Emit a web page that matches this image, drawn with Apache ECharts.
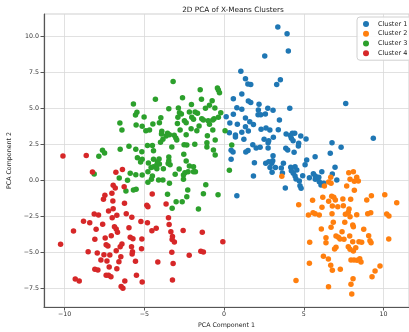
<!DOCTYPE html>
<html>
<head>
<meta charset="utf-8">
<title>2D PCA of X-Means Clusters</title>
<script src="https://cdn.jsdelivr.net/npm/echarts@6.0.0/dist/echarts.min.js"></script>
<style>
  html, body { margin: 0; padding: 0; background: #fff; }
  #chart { width: 409px; height: 332px; }
</style>
</head>
<body>
<div id="chart"></div>
<script>
// PCA component 1 / component 2 per cluster
const cluster1 = [
  [3.37,10.64],[3.95,10.17],[4.03,8.97],[2.55,8.62],[1.05,7.56],[1.34,7.04],[3.53,6.97],[1.49,6.68],[1.67,6.63],[3.30,6.63],
  [1.11,5.98],[0.58,5.65],[1.52,5.49],[1.67,5.38],[2.19,5.26],[4.12,4.99],[0.80,5.03],[1.11,4.92],[2.15,4.87],[2.74,4.99],
  [3.07,4.85],[2.13,4.54],[2.30,4.54],[2.59,4.59],[0.58,4.57],[0.13,4.40],[1.34,4.31],[3.47,4.17],[1.61,4.05],[0.36,3.96],
  [0.83,3.87],[1.84,3.85],[1.34,3.71],[2.32,3.53],[2.63,3.62],[2.87,3.48],[3.40,3.50],[1.52,3.41],[1.11,3.32],[0.33,3.29],
  [3.89,3.20],[4.28,3.25],[4.43,3.25],[0.71,3.13],[0.71,2.99],[4.81,3.06],[3.09,2.97],[1.24,2.83],[2.51,2.83],[2.80,2.73],
  [4.22,2.90],[4.33,2.73],[5.14,2.85],[1.80,2.45],[2.01,2.23],[2.26,2.27],[2.76,2.59],[2.76,2.23],[4.68,2.55],[4.66,2.36],
  [6.77,2.59],[7.34,2.27],[3.87,2.20],[3.99,2.09],[0.44,2.07],[1.36,1.95],[3.07,1.69],[5.71,1.62],[0.44,1.44],[5.18,1.39],
  [7.63,5.31],[9.36,2.90],[6.66,1.86],[4.39,1.93],[3.05,1.34],[2.99,1.16],[3.72,1.16],[5.08,1.06],[3.22,0.86],[2.88,0.86],
  [3.59,0.83],[4.18,0.88],[4.45,0.92],[4.56,0.70],[6.96,0.88],[3.01,0.54],[3.66,0.49],[4.22,0.65],[4.34,0.47],[4.45,0.28],
  [4.51,0.07],[4.93,0.30],[5.35,0.16],[5.60,0.44],[5.72,0.28],[5.72,0.05],[5.94,0.19],[6.13,0.58],[5.97,-0.12],[6.08,-0.35],
  [6.25,-0.23],[4.72,-0.07],[4.76,-0.40],[4.83,-0.58],[7.07,0.00],[3.84,-0.56],[6.79,0.42],[0.56,1.95],[1.50,2.05],[1.90,1.20],
  [2.61,1.16],[2.80,1.27],[1.84,0.28],[0.80,-1.09],[4.15,3.10]
];
const cluster2 = [
  [3.62,0.26],[7.82,0.51],[8.11,0.58],[8.32,0.19],[8.42,-0.07],[8.17,-0.09],[7.90,0.05],[6.69,0.19],[6.56,-0.14],[6.71,-0.23],
  [6.29,-0.42],[7.69,-0.42],[8.17,-0.72],[10.08,-1.02],[8.95,-1.39],[6.19,-1.20],[6.75,-1.13],[6.88,-1.20],[7.45,-1.32],[7.94,-1.34],
  [5.55,-1.41],[4.68,-1.72],[6.98,-1.39],[6.56,-1.48],[9.24,-1.09],[10.83,-1.58],[6.14,-1.90],[6.79,-1.81],[7.13,-1.86],[7.48,-1.79],
  [7.84,-2.02],[7.79,-2.25],[5.29,-2.43],[5.58,-2.27],[5.71,-2.34],[5.97,-2.43],[6.77,-2.34],[7.61,-2.39],[7.90,-2.55],[8.32,-2.41],
  [9.01,-2.34],[9.20,-2.27],[10.20,-2.36],[10.34,-2.50],[6.85,-2.94],[7.57,-2.94],[8.07,-3.13],[8.11,-3.25],[6.10,-3.41],[6.71,-3.29],
  [8.76,-3.43],[7.40,-3.60],[7.88,-3.89],[7.02,-3.89],[7.17,-3.98],[6.39,-4.01],[9.07,-3.87],[9.15,-4.22],[7.27,-4.10],[7.52,-4.12],
  [8.46,-4.29],[8.07,-4.29],[5.37,-4.33],[10.33,-4.10],[8.63,-4.33],[9.22,-4.36],[7.02,-4.68],[7.79,-4.64],[7.90,-4.82],[8.26,-4.71],
  [6.93,-4.80],[6.39,-4.36],[8.11,-4.94],[6.23,-5.31],[6.54,-5.49],[7.96,-5.56],[8.15,-5.56],[8.51,-5.47],[8.59,-5.70],[8.34,-5.58],
  [5.35,-5.79],[6.69,-5.93],[7.29,-6.21],[6.79,-6.28],[9.78,-5.98],[9.47,-6.33],[9.28,-6.72],[8.09,-6.86],[4.51,-6.99],[6.55,-7.42],
  [7.96,-7.25],[8.01,-7.93]
];
const cluster3 = [
  [-1.50,6.28],[-0.42,6.40],[-0.36,6.26],[-0.29,6.07],[-1.42,5.61],[-0.75,5.51],[-0.92,5.19],[-1.17,4.99],[-0.58,5.01],[-0.21,4.68],
  [-0.36,4.36],[-0.63,4.26],[-0.71,4.17],[-1.00,4.12],[-1.30,4.17],[-1.40,4.26],[-0.92,3.87],[0.06,3.43],[-0.71,3.48],[-1.05,3.08],
  [-0.56,2.78],[-1.08,2.59],[-1.08,2.29],[0.48,2.43],[-0.67,2.09],[-0.56,1.74],[-3.20,6.84],[-2.61,5.72],[-4.31,5.61],[-5.69,5.29],
  [-2.05,5.24],[-3.47,4.96],[-2.87,5.01],[-5.47,4.71],[-5.56,4.52],[-2.80,4.68],[-2.68,4.59],[-2.18,4.73],[-1.82,4.73],[-1.67,4.64],
  [-5.02,4.38],[-3.97,4.33],[-2.90,4.36],[-2.03,4.36],[-1.92,4.22],[-2.49,4.12],[-2.38,3.98],[-4.06,3.98],[-4.47,3.89],[-2.93,3.92],
  [-6.54,3.96],[-5.52,3.82],[-5.14,3.73],[-1.57,3.76],[-2.07,3.57],[-6.41,3.48],[-4.91,3.43],[-4.68,3.48],[-2.76,3.48],[-3.91,3.39],
  [-3.93,3.20],[-3.55,3.25],[-3.64,3.06],[-3.43,3.15],[-3.13,3.11],[-3.03,2.92],[-2.97,2.78],[-1.71,3.43],[-2.38,3.15],[-3.84,2.83],
  [-3.99,2.62],[-2.51,2.45],[-2.34,2.43],[-1.84,2.48],[-5.97,2.34],[-5.54,2.13],[-5.16,1.97],[-4.81,2.39],[-4.50,2.39],[-4.43,2.04],
  [-3.28,2.29],[-6.52,2.13],[-7.63,2.07],[-7.50,1.88],[-7.86,1.65],[-5.44,1.55],[-5.14,1.44],[-4.08,1.46],[-4.18,1.27],[-3.47,1.60],
  [-3.47,1.34],[-3.39,1.06],[-4.75,1.18],[-4.43,0.92],[-4.22,0.79],[-2.38,1.32],[-2.18,0.97],[-1.92,0.92],[-2.82,0.76],[-3.81,0.79],
  [-5.24,1.25],[-8.15,0.42],[-5.89,0.47],[-5.54,0.37],[-5.14,0.35],[-4.78,0.58],[-4.50,0.28],[-4.56,0.05],[-6.58,0.14],[-6.06,-0.02],
  [-6.16,-0.76],[-5.69,-0.70],[-5.52,-0.65],[-4.78,-0.16],[-4.11,0.00],[-3.84,0.00],[-3.43,-0.23],[-3.51,1.15],[-4.06,1.11],[-4.43,1.44],
  [-4.58,0.87],[-4.22,1.06],[-2.53,1.79],[-1.92,0.58],[-1.80,0.58],[-3.07,0.40],[-2.55,0.35],[-2.46,0.51],[-2.26,0.58],[-2.55,0.05],
  [-1.15,-0.33],[-2.28,-0.70],[-3.55,-0.99],[-1.30,-0.95],[-0.38,-1.02],[-2.34,-1.16],[-3.01,-1.51],[-2.63,-1.51],[-3.26,-1.97],[-1.61,-2.02],
  [0.33,0.67]
];
const cluster4 = [
  [-10.11,1.67],[-8.65,1.70],[-8.26,0.56],[-6.79,0.54],[-6.38,0.73],[-6.96,-0.37],[-7.04,-0.92],[-6.83,-0.56],[-6.27,-0.47],[-7.48,-1.06],
  [-7.57,-1.34],[-6.98,-1.46],[-6.25,-1.62],[-4.51,-0.97],[-4.85,-1.76],[-4.78,-1.86],[-7.25,-2.16],[-6.96,-2.00],[-8.15,-2.36],[-7.88,-2.43],
  [-6.14,-2.34],[-5.79,-2.59],[-7.02,-2.62],[-6.73,-2.45],[-8.82,-2.87],[-8.43,-2.98],[-7.62,-3.08],[-5.22,-2.89],[-4.81,-2.97],[-3.64,-1.67],
  [-3.49,-2.62],[-3.45,-3.09],[-3.34,-3.60],[-3.24,-3.93],[-3.26,-4.14],[-4.26,-3.36],[-4.53,-3.53],[-2.57,-3.51],[-1.37,-3.64],[-10.26,-4.47],
  [-9.45,-3.55],[-8.03,-3.43],[-6.88,-3.25],[-6.77,-3.41],[-6.69,-3.64],[-5.97,-3.32],[-7.08,-3.87],[-7.46,-4.03],[-8.11,-4.12],[-5.89,-3.98],
  [-5.72,-4.08],[-5.16,-4.10],[-3.12,-4.31],[-7.40,-4.50],[-7.29,-4.59],[-6.41,-4.45],[-6.52,-4.64],[-5.81,-4.64],[-5.18,-4.78],[-8.53,-4.99],
  [-7.96,-5.08],[-7.54,-5.19],[-7.17,-5.22],[-6.77,-4.92],[-5.75,-4.99],[-5.77,-5.15],[-6.48,-5.33],[-7.73,-5.56],[-7.35,-5.63],[-6.60,-5.68],
  [-5.56,-5.65],[-4.16,-5.70],[-3.28,-5.03],[-3.20,-5.81],[-7.21,-6.05],[-6.73,-6.17],[-8.11,-6.21],[-7.92,-6.26],[-7.40,-6.63],[-7.25,-6.63],
  [-7.10,-6.72],[-5.50,-6.63],[-9.34,-6.88],[-9.09,-7.02],[-6.23,-7.02],[-5.14,-7.09],[-3.24,-6.95],[-6.46,-7.41],[-6.35,-7.53],[-2.19,-5.24],
  [-1.46,-4.96],[-1.30,-5.01],[-0.08,-4.29]
];
const clusterNames = ['Cluster 1', 'Cluster 2', 'Cluster 3', 'Cluster 4'];
const clusterColors = ['#1f77b4', '#ff7f0e', '#2ca02c', '#d62728'];
const xTicks = [-10, -5, 0, 5, 10];
const yTicks = [-7.5, -5, -2.5, 0, 2.5, 5, 7.5, 10];

const chart = echarts.init(document.getElementById('chart'));
const font = 'DejaVu Sans';
const minus = v => String(v).replace('-', '\u2212');

const option = {
  animation: false,
  textStyle: { fontFamily: font },
  title: {
    text: '2D PCA of X-Means Clusters',
    left: 228,
    textAlign: 'center',
    top: 2,
    textStyle: { fontSize: 7.3, fontWeight: 'normal', color: '#222', fontFamily: font }
  },
  legend: {
    orient: 'vertical',
    left: 357,
    top: 17,
    padding: [2, 4, 2, 6],
    itemGap: 0,
    itemWidth: 6,
    itemHeight: 6,
    icon: 'circle',
    backgroundColor: 'rgba(255,255,255,0.85)',
    borderColor: '#d0d0d0',
    borderWidth: 1,
    borderRadius: 3,
    textStyle: { fontSize: 6.5, color: '#222', lineHeight: 9.8, padding: [0, 0, 0, 4], fontFamily: font },
    data: clusterNames
  },
  grid: {
    left: 44, right: 0, top: 14, bottom: 25,
    containLabel: false,
    outerBoundsMode: 'none',
    show: true, borderColor: '#cfcfcf', borderWidth: 1
  },
  xAxis: {
    type: 'value',
    min: -11.3, max: 11.6,
    name: 'PCA Component 1',
    nameLocation: 'middle',
    nameGap: 13,
    nameTextStyle: { fontSize: 6.3, color: '#222', fontFamily: font },
    axisLine: { show: true, onZero: false, lineStyle: { color: '#555', width: 1.2 } },
    axisTick: { show: true, length: 3.5, customValues: xTicks, lineStyle: { color: '#555' } },
    axisLabel: { fontSize: 6.3, color: '#333', margin: 4, customValues: xTicks, formatter: minus },
    splitLine: { show: true, lineStyle: { color: '#d9d9d9', width: 0.8 } }
  },
  yAxis: {
    type: 'value',
    min: -8.83, max: 11.54,
    name: 'PCA Component 2',
    nameLocation: 'middle',
    nameGap: 25,
    nameTextStyle: { fontSize: 6.3, color: '#222', fontFamily: font },
    axisLine: { show: true, onZero: false, lineStyle: { color: '#555', width: 1.2 } },
    axisTick: { show: true, length: 3.5, customValues: yTicks, lineStyle: { color: '#555' } },
    axisLabel: {
      fontSize: 6.3, color: '#333', margin: 5, customValues: yTicks,
      formatter: v => minus(v.toFixed(1))
    },
    splitLine: { show: true, lineStyle: { color: '#d9d9d9', width: 0.8 } }
  },
  series: [cluster1, cluster2, cluster3, cluster4].map((pts, i) => ({
    name: clusterNames[i],
    type: 'scatter',
    data: pts,
    symbolSize: 5.5,
    itemStyle: { color: clusterColors[i], opacity: 1 },
    emphasis: { disabled: true }
  }))
};

chart.setOption(option);
</script>
</body>
</html>
